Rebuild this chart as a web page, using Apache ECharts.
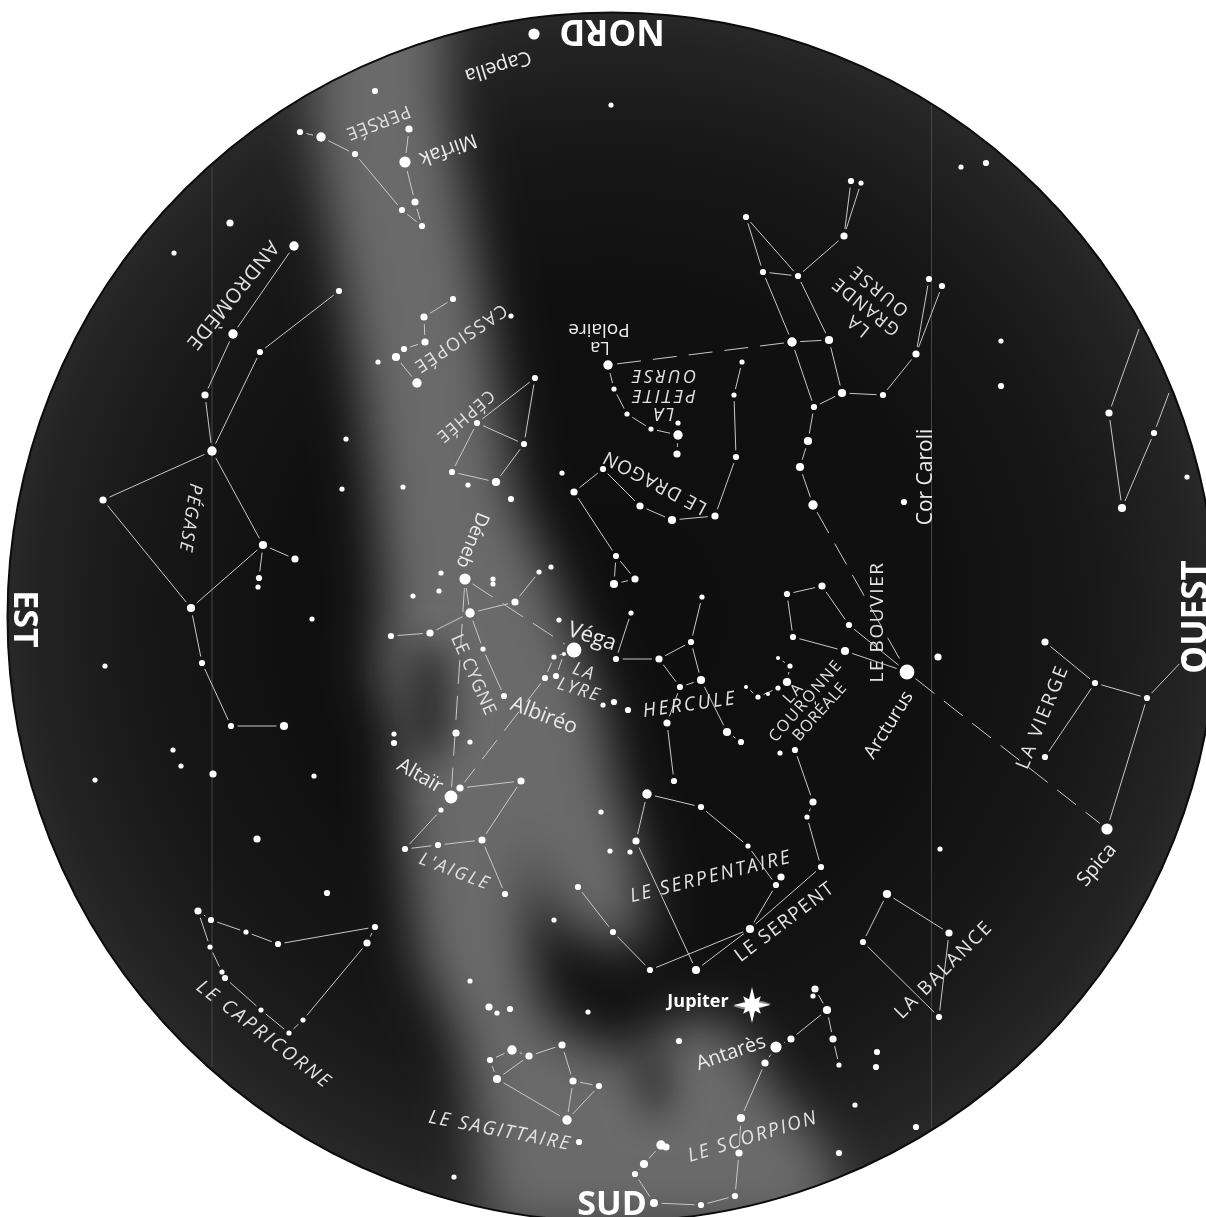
<!DOCTYPE html>
<html><head><meta charset="utf-8">
<style>html,body{margin:0;padding:0;background:#fff}#c{width:1206px;height:1217px}</style>
<script src="https://cdn.jsdelivr.net/npm/echarts@6/dist/echarts.min.js"></script>
</head><body><div id="c"></div>
<script>
const sky = [612, 617, 605];
const meridians = [[[212,167],[212,1067]], [[931.5,105],[931.5,1128]]];

const milkyWay = [
 [[325,0],[310,100],[325,200],[345,300],[362,400],[375,500],[385,600],[378,680],[400,720],[400,790],[405,860],[420,960],[460,1040],[475,1120],[490,1230],[830,1230],[835,1160],[770,1085],[740,1030],[700,1015],[660,1030],[640,1060],[600,1050],[545,1020],[530,960],[530,880],[515,830],[545,890],[565,930],[610,945],[645,945],[640,860],[615,780],[600,700],[575,640],[545,560],[515,500],[500,400],[485,300],[465,200],[445,100],[445,0]]
];
const darkLanes = [
 [[410,650],[445,645],[452,720],[435,770],[410,740]],
 [[635,1060],[668,1055],[668,1115],[645,1115]]
];

const starsR2 = [[564,654],[778,658],[746,687],[768,694]];
const starsR25 = [[611,105],[378,362],[511,316],[174,253],[346,439],[342,489],[312,619],[105,666],[394,734],[173,750],[181,766],[95,780],[314,776],[258,587],
 [742,362],[734,395],[614,389],[627,414],[651,429],[678,423],[861,183],[961,167],[1001,341],[468,485],[403,487],[562,473],[539,572],[551,567],[483,649],[441,573],[439,591],[413,596],[493,579],[493,584],[559,620],[554,657],[470,742],[441,810],[631,613],[702,597],[603,705],[790,666],[778,688],[758,697],[780,753],[807,817],[940,849],[748,846],[630,852],[610,851],[601,812],[554,920],[813,996],[839,1065],[855,1105],[588,1012],[470,981],[497,1013],[454,1177],[246,932],[210,947],[222,972],[261,1010],[303,1020],[289,1033],[1187,477]];
const starsR3 = [[375,91],[300,132],[355,154],[402,210],[422,226],[339,291],[260,352],[202,663],[231,726],[391,636],[394,743],[453,299],[404,349],[535,378],[477,423],[524,444],[452,472],[511,499],[851,181],[746,217],[763,272],[798,276],[929,279],[942,286],[883,395],[814,407],[986,163],[1001,386],[736,457],[603,469],[616,556],[504,696],[545,678],[556,676],[405,849],[438,845],[505,894],[616,659],[691,642],[680,687],[674,781],[741,742],[614,702],[628,710],[787,594],[793,637],[849,625],[904,502],[1095,683],[1147,698],[1045,757],[1184,659],[795,750],[821,867],[701,807],[776,885],[578,887],[613,932],[650,970],[863,942],[939,1017],[877,1052],[876,1067],[916,1127],[839,1153],[679,1041],[735,1196],[701,1205],[635,1174],[490,1060],[599,1086],[579,1142],[510,1009],[211,920],[278,944],[375,927],[225,978],[327,893],[1154,433],[259,578]];
const starsR35 = [[409,129],[415,202],[230,223],[205,395],[103,500],[295,559],[213,774],[424,317],[425,342],[916,354],[844,236],[1109,413],[715,516],[640,506],[574,492],[635,579],[515,602],[430,633],[460,788],[521,781],[482,840],[456,733],[659,659],[667,723],[813,802],[822,586],[1045,642],[938,657],[677,454],[636,841],[781,877],[949,933],[815,989],[791,1039],[765,1063],[833,1039],[739,1153],[562,1045],[529,1056],[573,1081],[489,1007],[198,911],[367,943],[257,839],[666,1147]];
const starsR4 = [[191,608],[263,545],[396,357],[829,340],[842,393],[284,726],[496,482],[672,520],[614,584],[701,680],[727,732],[787,682],[845,651],[808,441],[800,467],[1122,508],[750,929],[696,970],[887,894],[827,1010],[741,1118],[654,1203],[644,1164],[497,1079]];
const starsR45 = [[321,137],[294,246],[233,334],[212,451],[417,383],[792,342],[608,365],[678,435],[813,505],[470,613],[647,794],[661,1145],[512,1050],[567,1120]];
const starsR55 = [[405,162],[534,34],[465,579],[1107,829],[776,1047]];
const starsR7 = [[574,650],[907,672]];
const starsR6 = [[451,797]];
const starGroups = [[starsR2,2],[starsR25,2.6],[starsR3,3.1],[starsR35,3.6],[starsR4,4.1],[starsR45,4.7],[starsR55,5.6],[starsR6,6.4],[starsR7,7.4]];

const jupiter = [[752,1005]];

const solidLines = [
 [[300,132],[321,137],[355,154],[402,210],[422,226],[415,202],[405,162],[409,129]],
 [[294,246],[233,334],[205,395],[212,451]],
 [[339,291],[260,352],[212,451]],
 [[212,451],[103,500],[191,608],[263,545],[212,451]],
 [[263,545],[295,559]],[[263,545],[259,578]],
 [[191,608],[202,663],[231,726],[284,726]],
 [[453,299],[424,317],[425,342],[404,349]],[[396,357],[417,383]],
 [[535,378],[477,423],[524,444],[496,482],[452,472],[477,423]],[[535,378],[524,444]],
 [[851,181],[844,236],[861,183]],
 [[844,236],[798,276],[746,217],[763,272],[798,276]],
 [[763,272],[792,342],[829,340],[798,276]],
 [[792,342],[814,407],[842,393],[829,340]],
 [[842,393],[883,395],[916,354],[929,279]],[[916,354],[942,286]],
 [[814,407],[808,441],[800,467],[813,505]],
 [[1139,329],[1109,413],[1122,508],[1154,433],[1169,393]],
 [[608,365],[614,389],[627,414],[651,429],[678,435],[677,454]],
 [[742,362],[734,395],[736,457],[715,516],[672,520],[640,506],[603,469],[574,492],[616,556],[635,579],[614,584],[616,556]],
 [[465,579],[470,613]],
 [[391,636],[430,633],[470,613],[515,602],[539,572]],
 [[470,613],[483,649],[504,696]],
 [[574,650],[554,657],[545,678]],[[564,654],[556,676]],
 [[460,788],[521,781],[482,840],[505,894]],
 [[482,840],[438,845],[405,849],[441,810]],
 [[631,613],[616,659],[659,659],[691,642],[702,597]],
 [[691,642],[701,680],[680,687],[659,659]],
 [[701,680],[727,732],[741,742]],
 [[680,687],[667,723],[674,781]],
 [[746,687],[758,697]],[[758,697],[778,688]],[[778,658],[790,666],[787,682]],
 [[907,672],[845,651],[793,637],[787,594],[822,586],[849,625],[907,672]],
 [[1045,642],[1095,683],[1147,698],[1107,829]],[[1095,683],[1045,757]],[[1147,698],[1184,659]],
 [[795,750],[813,802],[807,817],[821,867],[750,929]],
 [[647,794],[701,807],[748,846],[776,885],[750,929]],
 [[647,794],[636,841],[696,970],[750,929]],
 [[750,929],[650,970],[613,932],[578,887]],
 [[887,894],[949,933],[939,1017],[863,942],[887,894]],
 [[815,989],[827,1010],[791,1039],[776,1047],[765,1063],[741,1118],[739,1153],[735,1196],[701,1205],[654,1203],[635,1174],[644,1164],[661,1145]],
 [[827,1010],[833,1039],[839,1065]],
 [[490,1060],[512,1050],[529,1056],[562,1045],[573,1081],[599,1086],[567,1120],[573,1081]],
 [[529,1056],[497,1079],[490,1060]],[[497,1079],[567,1120]],
 [[198,911],[211,920],[246,932],[278,944],[375,927],[367,943],[303,1020],[289,1033],[261,1010],[225,978]],
 [[198,911],[210,947],[222,972]]
];
const dashedLines = [
 [[792,342],[608,365]],
 [[813,505],[907,672]],
 [[907,672],[1107,829]],
 [[465,579],[574,650]],
 [[465,579],[451,797]],
 [[545,678],[460,788]]
];

// text, x, y, rotation (deg), size, style
const labelsDirection = [
 ["NORD",612,30,180,35],["SUD",612,1205,0,34],["EST",24,619,-90,34],["OUEST",1197,617,90,35]
];
const labelsStars = [
 ["Capella",498,66,197,20],["Mirfak",448,149,200,20],["La",600,347,180,18],["Polaire",599,329,180,19],
 ["Cor Caroli",926,477,90,21],["Déneb",472,540,-112,19],["Véga",592,637,-18,22],["Albiréo",544,716,-21,21],
 ["Altaïr",420,776,-30,20],["Arcturus",889,725,58,19],["Spica",1097,865,50,20],["Antarès",731,1053,19,20]
];
const labelsConst = [
 ["PERSÉE",378,122,201,18],["ANDROMÈDE",232,295,231,20],["CASSIOPÉE",460,338,214,18],["CÉPHÉE",465,416,221,17],
 ["OURSE",663,375,180,18,"italic"],["PETITE",663,395,180,18,"italic"],["LA",663,413,180,18,"italic"],
 ["LA",858,325,141,18],["GRANDE",866,306,141,18],["OURSE",879,290,141,18],
 ["LE DRAGON",655,482,152,19],["PÉGASE",190,518,-99,18,"italic"],["LE CYGNE",473,675,-66,18],
 ["LA",584,672,-18,18,"italic"],["LYRE",579,690,-17,18,"italic"],["HERCULE",690,705,8,19,"italic"],
 ["LA",794,693,48,16],["COURONNE",806,701,49,16],["BORÉALE",820,712,48,16],
 ["LE BOUVIER",878,622,90,19],["LA VIERGE",1043,717,68,19],["LE SERPENTAIRE",711,877,14,19,"italic"],
 ["LE SERPENT",785,922,37,19],["L'AIGLE",455,872,-21,18,"italic"],["LE CAPRICORNE",264,1035,-37.5,19,"italic"],
 ["LE SAGITTAIRE",500,1131,-11,19,"italic"],["LE SCORPION",753,1137,17,19,"italic"],["LA BALANCE",944,970,45,19]
];
const jupiterLabel = ["Jupiter",698,1002,0,18];
const letterSpacing = {"PERSÉE":1,"ANDROMÈDE":1,"CASSIOPÉE":1.8,"CÉPHÉE":1.5,"OURSE":2.6,"PETITE":2.4,"LA":2,"GRANDE":1.6,
 "LE DRAGON":1,"PÉGASE":1.6,"LE CYGNE":0.6,"LYRE":1.8,"HERCULE":2.6,"COURONNE":1.7,"BORÉALE":0.5,"LE BOUVIER":1.6,"LA VIERGE":2.3,
 "LE SERPENTAIRE":2.3,"LE SERPENT":1.5,"L'AIGLE":2.5,"LE CAPRICORNE":2.6,"LE SAGITTAIRE":2.1,"LE SCORPION":2.1,"LA BALANCE":2};

const drawText = CanvasRenderingContext2D.prototype.fillText;
CanvasRenderingContext2D.prototype.fillText = function(t,x,y,w){
  this.letterSpacing = (letterSpacing[t]||0)+'px';
  const r = w===undefined ? drawText.call(this,t,x,y) : drawText.call(this,t,x,y,w);
  this.letterSpacing = '0px';
  return r;
};

const allStars = starGroups.flatMap(g => g[0].map(p => [p[0],p[1],g[1]]));
function trimFor(p){
  let best = 0, d0 = 3;
  for (const s of allStars){ const d = Math.hypot(s[0]-p[0],s[1]-p[1]); if (d < d0){ d0 = d; best = s[2] + 3.5; } }
  return best;
}
function segs(list){
  const out = [];
  list.forEach(l => { for (let i=0;i<l.length-1;i++){ out.push([l[i][0],l[i][1],l[i+1][0],l[i+1][1]]); } });
  return out;
}
function lineSeries(list, style, z){
  return { type:'custom', coordinateSystem:'cartesian2d', silent:true, clip:false, z,
    data: segs(list), encode:{x:0,y:1},
    renderItem(params, api){
      const a = api.coord([api.value(0),api.value(1)]), b = api.coord([api.value(2),api.value(3)]);
      const L = Math.hypot(b[0]-a[0],b[1]-a[1]), ux=(b[0]-a[0])/L, uy=(b[1]-a[1])/L;
      const t0 = trimFor([api.value(0),api.value(1)]), t1 = trimFor([api.value(2),api.value(3)]);
      return { type:'line', shape:{x1:a[0]+ux*t0,y1:a[1]+uy*t0,x2:b[0]-ux*t1,y2:b[1]-uy*t1}, style };
    } };
}
function polygonGlow(list, color, blur, z){
  const FAR = 4000;
  return { type:'custom', coordinateSystem:'cartesian2d', silent:true, clip:false, z,
    data: list.map((p,i)=>[0,0,i]), encode:{x:0,y:1},
    renderItem(params, api){
      const pts = list[api.value(2)].map(p => { const c = api.coord(p); return [c[0]+FAR,c[1]]; });
      return { type:'polygon', shape:{points:pts}, style:{fill:'#000',shadowColor:color,shadowBlur:blur,shadowOffsetX:-FAR,shadowOffsetY:0} };
    } };
}
function labelSeries(list, fill, weight, z, family){
  return { type:'custom', coordinateSystem:'cartesian2d', silent:true, clip:false, z,
    data: list.map((l,i)=>[l[1],l[2],i]), encode:{x:0,y:1},
    renderItem(params, api){
      const l = list[api.value(2)], c = api.coord([l[1],l[2]]);
      return { type:'text', x:c[0], y:c[1], rotation:l[3]*Math.PI/180,
        style:{ text:l[0], x:0, y:0, fill, align:'center', verticalAlign:'middle',
          font:(l[5]||'normal')+' '+weight+' '+l[4]+'px '+family } };
    } };
}
const FONT = '"Open Sans","Noto Sans",sans-serif';
const series = [
 { type:'custom', coordinateSystem:'cartesian2d', silent:true, clip:false, z:1,
   data:[[sky[0],sky[1]]], encode:{x:0,y:1},
   renderItem(params, api){
     const c = api.coord([sky[0],sky[1]]), r = api.size([sky[2],0])[0];
     return { type:'circle', shape:{cx:c[0],cy:c[1],r},
       style:{ fill:new echarts.graphic.RadialGradient(0.5,0.5,0.5,[{offset:0,color:'#0e0e0e'},{offset:0.55,color:'#101010'},{offset:0.8,color:'#181818'},{offset:0.95,color:'#232323'},{offset:1,color:'#282828'}]) } };
   } },
 polygonGlow(milkyWay,'#6a6a6a',50,2),
 polygonGlow(darkLanes,'rgba(15,15,15,0.7)',36,3),
 { type:'custom', coordinateSystem:'cartesian2d', silent:true, clip:false, z:4,
   data:[[sky[0],sky[1]]], encode:{x:0,y:1},
   renderItem(params, api){
     const c = api.coord([sky[0],sky[1]]), r = api.size([sky[2],0])[0];
     return { type:'group', children:[
       { type:'circle', shape:{cx:c[0],cy:c[1],r:r+500}, style:{fill:'none',stroke:'#fff',lineWidth:1000} },
       { type:'circle', shape:{cx:c[0],cy:c[1],r:r-0.5}, style:{fill:'none',stroke:'#0c0c0c',lineWidth:2} }
     ]};
   } },
 lineSeries(meridians,{stroke:'#454545',lineWidth:1},5),
 lineSeries(dashedLines,{stroke:'#c8c8c8',lineWidth:1,lineDash:[24,12]},6),
 lineSeries(solidLines,{stroke:'#c8c8c8',lineWidth:1},6),
 ...starGroups.map(g => ({ type:'scatter', silent:true, z:7, symbol:'circle', symbolSize:g[1]*2, data:g[0], itemStyle:{color:'#fff',opacity:1} })),
 { type:'scatter', silent:true, z:7, data:jupiter, symbolSize:[38,9], symbolRotate:4, symbol:'path://M0,50 Q50,20 100,50 Q50,80 0,50 Z', itemStyle:{color:'#8a8a8a',opacity:1} },
 { type:'scatter', silent:true, z:8, data:jupiter, symbolSize:[37,36],
   symbol:'path://M100,50 L68,43 L74,26 L58,34 L50,0 L42,34 L26,26 L32,43 L0,50 L32,57 L26,74 L42,66 L50,100 L58,66 L74,74 L68,57 Z', itemStyle:{color:'#fff',opacity:1} },
 labelSeries(labelsDirection,'#fff',700,9,FONT),
 labelSeries(labelsStars,'#ececec',400,9,FONT),
 labelSeries(labelsConst,'#e2e2e2',400,9,FONT),
 labelSeries([jupiterLabel],'#fff',700,9,FONT)
];
const chart = echarts.init(document.getElementById('c'),null,{renderer:'canvas'});
chart.setOption({
  animation:false, backgroundColor:'#fff',
  grid:{left:0,right:0,top:0,bottom:0},
  xAxis:{type:'value',min:0,max:1206,show:false},
  yAxis:{type:'value',min:0,max:1217,inverse:true,show:false},
  series
});
</script></body></html>
